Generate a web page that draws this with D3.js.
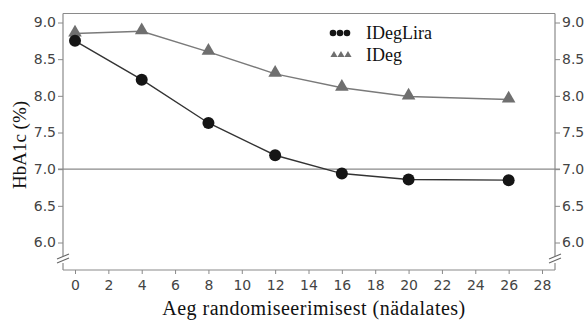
<!DOCTYPE html>
<html>
<head>
<meta charset="utf-8">
<script src="https://cdn.jsdelivr.net/npm/d3@7"></script>
<style>
  body { margin: 0; background: #fff; }
  #container { width: 587px; height: 320px; }
</style>
</head>
<body>
<div id="container"></div>
<script>
const width = 587,
      height = 320,
      margin = {top: 13.5, bottom: 50, left: 63, right: 32};

// data
const weeks = [0, 4, 8, 12, 16, 20, 26];
const idegLira = [8.75, 8.22, 7.63, 7.19, 6.94, 6.86, 6.85];
const ideg = [8.85, 8.88, 8.60, 8.30, 8.11, 7.99, 7.95];
const xTicks = [0, 2, 4, 6, 8, 10, 12, 14, 16, 18, 20, 22, 24, 26, 28];
const yTicks = [6.0, 6.5, 7.0, 7.5, 8.0, 8.5, 9.0];
const targetLine = 7.0;

const svg = d3.select("#container").append("svg")
    .attr("width", width)
    .attr("height", height);

const x = d3.scaleLinear()
    .domain([0, 28])
    .range([75, 542]);

const y = d3.scaleLinear()
    .domain([6, 9])
    .range([242.5, 22.5]);

const plotL = margin.left, plotR = width - margin.right,
      plotT = margin.top, plotB = height - margin.bottom;
const axisColor = "#8a8a8a";
const tickFont = "'DejaVu Sans', sans-serif";
const serif = "'Liberation Serif', 'Times New Roman', serif";

// frame: top line, bottom axis line
svg.append("line").attr("x1", plotL).attr("x2", plotR).attr("y1", plotT).attr("y2", plotT)
    .attr("stroke", axisColor).attr("stroke-width", 1.2);
svg.append("line").attr("x1", plotL).attr("x2", plotR).attr("y1", plotB).attr("y2", plotB)
    .attr("stroke", axisColor).attr("stroke-width", 1.2);

// vertical axes with a break near the bottom
[plotL, plotR].forEach(function(ax) {
    svg.append("line").attr("x1", ax).attr("x2", ax).attr("y1", plotT).attr("y2", 256)
        .attr("stroke", axisColor).attr("stroke-width", 1.2);
    svg.append("line").attr("x1", ax).attr("x2", ax).attr("y1", 263).attr("y2", plotB)
        .attr("stroke", axisColor).attr("stroke-width", 1.2);
    [0, 4].forEach(function(off) {
        svg.append("line")
            .attr("x1", ax - 6).attr("y1", 259 + off)
            .attr("x2", ax + 6).attr("y2", 254 + off)
            .attr("stroke", "#666").attr("stroke-width", 1.1);
    });
});

// axes
const yAxisL = svg.append("g")
    .attr("transform", `translate(${plotL}, 0)`)
    .call(d3.axisLeft(y).tickValues(yTicks).tickFormat(d3.format(".1f")).tickSize(5).tickPadding(2));
const yAxisR = svg.append("g")
    .attr("transform", `translate(${plotR}, 0)`)
    .call(d3.axisRight(y).tickValues(yTicks).tickFormat(d3.format(".1f")).tickSize(5).tickPadding(2));
const xAxis = svg.append("g")
    .attr("transform", `translate(0, ${plotB})`)
    .call(d3.axisBottom(x).tickValues(xTicks).tickSize(4).tickPadding(6));

[yAxisL, yAxisR, xAxis].forEach(function(g) {
    g.select(".domain").remove();
    g.selectAll(".tick line").attr("stroke", axisColor);
    g.selectAll(".tick text")
        .attr("fill", "#444")
        .style("font-family", tickFont)
        .style("font-size", "14px");
});

// target line at 7.0
svg.append("line")
    .attr("x1", plotL - 5).attr("x2", plotR + 5)
    .attr("y1", y(targetLine)).attr("y2", y(targetLine))
    .attr("stroke", "#8a8a8a").attr("stroke-width", 1.4);

// series
const lineGen = d3.line()
    .x(function(d) { return x(d[0]); })
    .y(function(d) { return y(d[1]); });

const degPts = weeks.map(function(w, i) { return [w, ideg[i]]; });
const liraPts = weeks.map(function(w, i) { return [w, idegLira[i]]; });

svg.append("path").datum(degPts)
    .attr("d", lineGen).attr("fill", "none")
    .attr("stroke", "#7a7a7a").attr("stroke-width", 1.4);
svg.append("path").datum(liraPts)
    .attr("d", lineGen).attr("fill", "none")
    .attr("stroke", "#333").attr("stroke-width", 1.4);

const tri = d3.symbol().type(d3.symbolTriangle).size(80);
svg.selectAll(".tri").data(degPts).enter()
    .append("path")
    .attr("class", "tri")
    .attr("d", tri)
    .attr("transform", function(d) { return `translate(${x(d[0])}, ${y(d[1]) - 1})`; })
    .attr("fill", "#6f6f6f");

svg.selectAll(".dot").data(liraPts).enter()
    .append("circle")
    .attr("class", "dot")
    .attr("cx", function(d) { return x(d[0]); })
    .attr("cy", function(d) { return y(d[1]); })
    .attr("r", 6)
    .attr("fill", "#151515");

// legend
const legend = svg.append("g");
[333, 340, 347].forEach(function(lx) {
    legend.append("circle").attr("cx", lx).attr("cy", 33).attr("r", 3.3).attr("fill", "#151515");
});
const smallTri = d3.symbol().type(d3.symbolTriangle).size(22);
[334, 341, 348].forEach(function(lx) {
    legend.append("path").attr("d", smallTri)
        .attr("transform", `translate(${lx}, 55)`).attr("fill", "#6f6f6f");
});
legend.append("text").attr("x", 366).attr("y", 39)
    .style("font-family", serif).style("font-size", "18px").attr("fill", "#111")
    .text("IDegLira");
legend.append("text").attr("x", 366).attr("y", 61)
    .style("font-family", serif).style("font-size", "18px").attr("fill", "#111")
    .text("IDeg");

// axis titles
svg.append("text")
    .attr("transform", `translate(${(plotL + plotR) / 2 + 5}, 315)`)
    .attr("text-anchor", "middle")
    .style("font-family", serif).style("font-size", "20px")
    .style("letter-spacing", "0.5px").attr("fill", "#111")
    .text("Aeg randomiseerimisest (nädalates)");

svg.append("text")
    .attr("transform", `translate(26, 145) rotate(-90)`)
    .attr("text-anchor", "middle")
    .style("font-family", serif).style("font-size", "19px").attr("fill", "#111")
    .text("HbA1c (%)");
</script>
</body>
</html>
